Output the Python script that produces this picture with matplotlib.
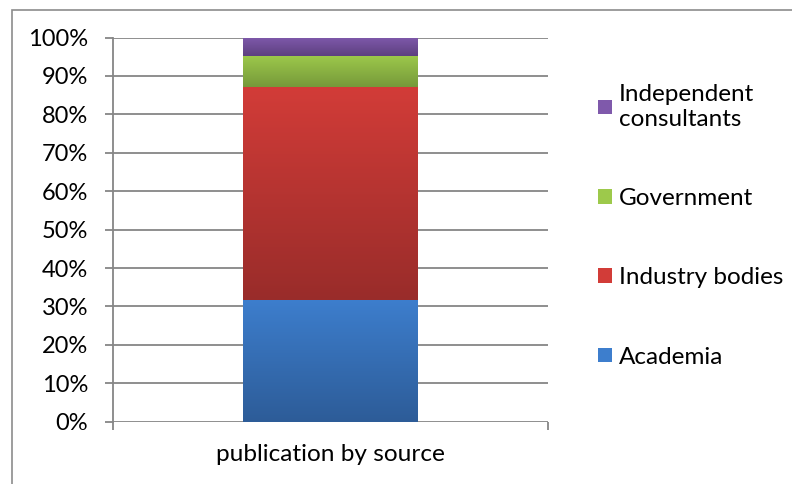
import numpy as np
import matplotlib.pyplot as plt
from matplotlib.patches import Patch, Rectangle
from matplotlib.colors import LinearSegmentedColormap

plt.rcParams['font.family'] = ['Lato', 'DejaVu Sans']

category = 'publication by source'
sources = ['Academia', 'Industry bodies', 'Government', 'Independent\nconsultants']
shares = [31.8, 55.2, 8.3, 4.7]
# (top colour, bottom colour) for each segment gradient
seg_colors = [('#3d7ecd', '#2d5c98'),
              ('#d23c38', '#992c2a'),
              ('#9dc94b', '#76993a'),
              ('#7f59ab', '#5d4080')]

fig = plt.figure(figsize=(7.92, 4.84), dpi=100)
ax = fig.add_axes([0.1427, 0.1287, 0.549, 0.7938])

grid_c = '#868686'
fs = 17
ax.set_xlim(-0.5, 0.5)
ax.set_ylim(0, 100)
ax.set_yticks(np.arange(0, 101, 10))
ax.set_yticklabels(['%d%%' % v for v in range(0, 101, 10)], fontsize=fs)
ax.yaxis.grid(True, color=grid_c, linewidth=1.3)
ax.set_axisbelow(True)
ax.tick_params(axis='y', length=6, width=1.3, color=grid_c, pad=12)

ax.set_xticks([0])
ax.set_xticklabels([category], fontsize=17.6)
ax.set_xticks([-0.5, 0.5], minor=True)
ax.tick_params(axis='x', which='major', length=0, pad=16)
ax.tick_params(axis='x', which='minor', length=6, width=1.3, color=grid_c)

for s in ['top', 'right', 'bottom']:
    ax.spines[s].set_visible(False)
ax.spines['left'].set_color(grid_c)
ax.spines['left'].set_linewidth(1.3)

grad = np.linspace(0, 1, 256).reshape(-1, 1)
bottom = 0
for val, (ctop, cbot) in zip(shares, seg_colors):
    bar = ax.bar(0, val, width=0.402, bottom=bottom, color=cbot, linewidth=0, zorder=3)[0]
    cmap = LinearSegmentedColormap.from_list('g', [cbot, ctop])
    im = ax.imshow(grad, cmap=cmap, aspect='auto', origin='lower',
                   extent=[bar.get_x(), bar.get_x() + bar.get_width(), bottom, bottom + val],
                   zorder=4)
    im.set_clip_path(bar)
    bottom += val
ax.set_xlim(-0.5, 0.5)
ax.set_ylim(0, 100)

handles = [Patch(facecolor=c[0], edgecolor='none') for c in seg_colors]
fig.legend(handles[::-1], sources[::-1], loc='center left',
           bbox_to_anchor=(0.74, 0.533), frameon=False, fontsize=17.5,
           handlelength=0.55, handleheight=0.55, handletextpad=0.3,
           labelspacing=2.4, borderpad=0)

fig.patches.append(Rectangle((12 / 792, -0.1), 1.2, 1 - 10 / 484 + 0.1,
                             transform=fig.transFigure, fill=False,
                             edgecolor='#8c8c8c', linewidth=1.2))

fig.savefig('out.png', dpi=100)
